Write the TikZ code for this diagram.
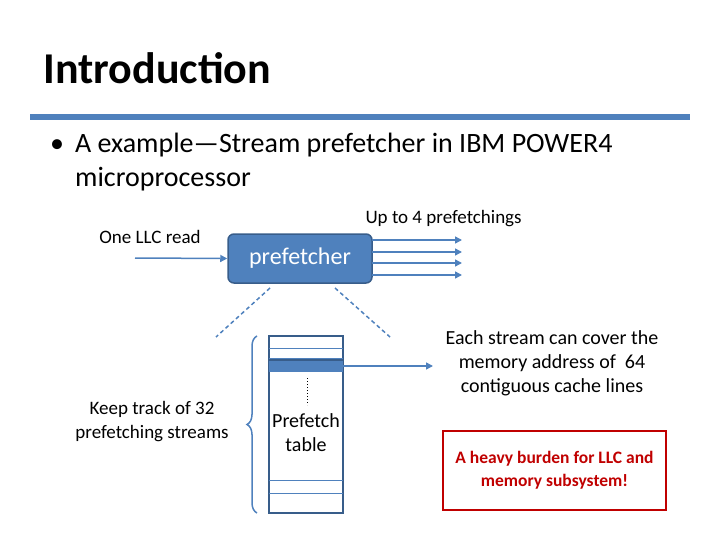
\documentclass[tikz,border=0pt]{standalone}
\usepackage{fontspec}
\setmainfont{Carlito}
\usetikzlibrary{arrows.meta,decorations.pathreplacing}
\definecolor{bl}{HTML}{4F81BD}
\definecolor{dbl}{HTML}{385D8A}
\definecolor{rd}{HTML}{C00000}
\begin{document}
\begin{tikzpicture}[x=1pt,y=-1pt,
  arr/.style={bl,line width=1.5pt,-{Triangle[length=7pt,width=7pt]}},
  dsh/.style={bl,line width=1.5pt,dashed,dash pattern=on 4pt off 3pt},
  lbl/.style={font=\fontsize{19}{24}\selectfont,align=center}]
\useasboundingbox (0,0) rectangle (720,540);
\node[anchor=west,font=\bfseries\fontsize{44}{50}\selectfont] (title) at (40,68) {Introduction};
\fill[bl] (30,114) rectangle (690,120);
\node[anchor=north west,font=\fontsize{28}{34}\selectfont,align=left,inner sep=0pt] (b) at (50,133) {• \,A example—Stream prefetcher in IBM POWER4\\\hphantom{• \,}microprocessor};
\node[draw=dbl,line width=1.5pt,fill=bl,rounded corners=6pt,minimum width=144pt,minimum height=49pt,text=white,font=\fontsize{24}{28}\selectfont] (p) at (300,258.5) {prefetcher};
\node[lbl] (llc) at (150,237) {One LLC read};
\coordinate (in) at (135,258);
\draw[arr] (in) -- (p.west);
\node[lbl,anchor=west] (up) at (362,219) {Up to 4 prefetchings};
\foreach \y/\n in {240/a,252/b,263/c,275/d}{
  \coordinate (o\n) at (462,\y);
  \draw[arr] (372,\y) -- (o\n);
}
\coordinate (d1) at (216,337); \coordinate (d2) at (390,337);
\draw[dsh] (270,288) -- (d1);
\draw[dsh] (335,288) -- (d2);
\node[draw=dbl,line width=1.8pt,minimum width=74pt,minimum height=177pt] (t) at (306,424.5) {};
\draw[bl,line width=1pt] (269,348) -- (343,348) (269,358) -- (343,358) (269,480) -- (343,480) (269,493) -- (343,493);
\fill[bl] (269,360) rectangle (343,372);
\draw[dbl,line width=1.5pt] (269,360) -- (343,360);
\draw[black,line width=1pt,dotted] (307,378) -- (307,405);
\node[lbl,anchor=north,font=\fontsize{20}{24}\selectfont] (pt) at (306,410) {Prefetch\\table};
\coordinate (ar) at (433,366);
\draw[arr] (343,366) -- (ar);
\draw[bl,line width=1.5pt,decorate,decoration={brace,amplitude=10pt,mirror}] (257,336) -- (257,513);
\node[lbl] (kt) at (152,422) {Keep track of 32\\prefetching streams};
\node[lbl,font=\fontsize{20}{24}\selectfont] (es) at (552,363) {Each stream can cover the\\memory address of \ 64\\contiguous cache lines};
\node[draw=rd,line width=1.5pt,minimum width=223pt,minimum height=79pt,text=rd,font=\bfseries\fontsize{17.5}{23}\selectfont,align=center] (rb) at (554.5,470.5) {A heavy burden for LLC and\\memory subsystem!};
\end{tikzpicture}
\end{document}
